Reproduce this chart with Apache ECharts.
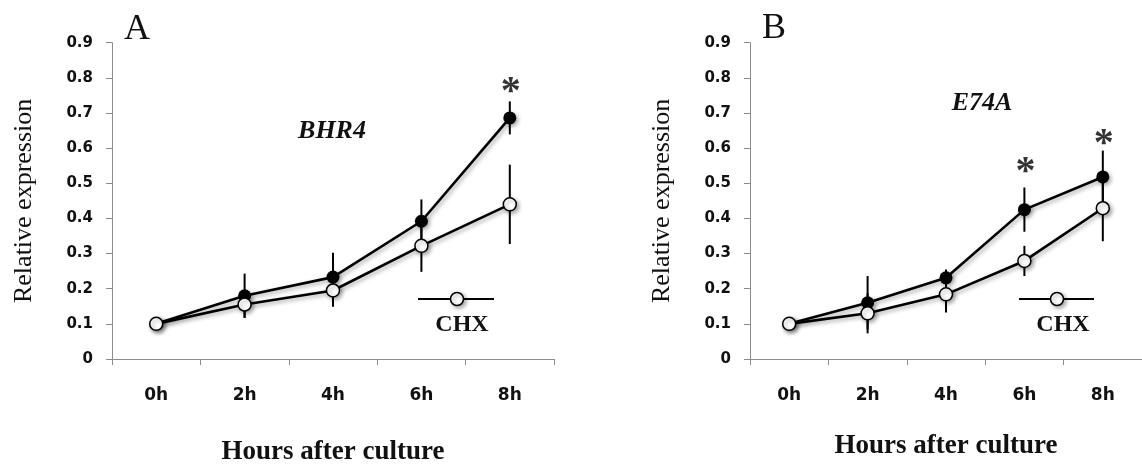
<!DOCTYPE html>
<html>
<head>
<meta charset="utf-8">
<script src="https://cdn.jsdelivr.net/npm/echarts@6/dist/echarts.min.js"></script>
<style>
html,body{margin:0;padding:0;background:#fff;}
#chart{width:1142px;height:465px;}
</style>
</head>
<body>
<div id="chart"></div>
<script>
const categories = ['0h', '2h', '4h', '6h', '8h'];

// Panel A – BHR4
const ctrlA    = [0.100, 0.180, 0.233, 0.392, 0.686];
const ctrlErrA = [0.000, 0.063, 0.069, 0.062, 0.047];
const chxA     = [0.100, 0.155, 0.195, 0.322, 0.440];
const chxErrA  = [0.000, 0.038, 0.046, 0.074, 0.113];
const starsA   = [[4, 0.777]];

// Panel B – E74A
const ctrlB    = [0.100, 0.160, 0.231, 0.425, 0.518];
const ctrlErrB = [0.000, 0.076, 0.024, 0.063, 0.075];
const chxB     = [0.100, 0.130, 0.184, 0.279, 0.429];
const chxErrB  = [0.000, 0.057, 0.052, 0.043, 0.094];
const starsB   = [[3, 0.549], [4, 0.629]];

const SANS = 'DejaVu Sans';
const SERIF = 'Liberation Serif';
const shadow = {shadowColor: 'rgba(0,0,0,0.35)', shadowBlur: 4, shadowOffsetX: 2, shadowOffsetY: 2};

function errData(vals, errs) { return vals.map((v, i) => [i, v, errs[i]]); }

function errSeries(idx, vals, errs) {
  return {
    type: 'custom', xAxisIndex: idx, yAxisIndex: idx, z: 1,
    data: errData(vals, errs),
    encode: {x: 0, y: 1},
    renderItem: function (params, api) {
      const x = api.value(0), v = api.value(1), e = api.value(2);
      if (!e) return null;
      const t = api.coord([x, v + e]);
      const b = api.coord([x, v - e]);
      return {type: 'line', shape: {x1: t[0], y1: t[1], x2: b[0], y2: b[1]},
              style: {stroke: '#000', lineWidth: 2}};
    }
  };
}

function lineSeries(idx, vals, filled) {
  return {
    type: 'line', xAxisIndex: idx, yAxisIndex: idx, z: filled ? 2 : 3,
    data: vals, symbol: 'circle', symbolSize: 13,
    lineStyle: Object.assign({color: '#000', width: 2.6}, shadow),
    itemStyle: Object.assign({color: filled ? '#000' : '#fff', borderColor: '#000', borderWidth: filled ? 0 : 1.5}, shadow),
    emphasis: {disabled: true}, animation: false
  };
}

function starSeries(idx, data) {
  return {
    type: 'scatter', xAxisIndex: idx, yAxisIndex: idx, z: 5,
    data: data, symbolSize: 1, itemStyle: {color: 'rgba(0,0,0,0)'},
    label: {show: true, position: 'inside', formatter: '*', fontFamily: SERIF, fontWeight: 'bold', fontSize: 40, color: '#000', offset: [1, 7]}
  };
}

function xAx(idx, gap) {
  return {
    type: 'category', gridIndex: idx, data: categories, boundaryGap: true,
    axisLine: {lineStyle: {color: '#8c8c8c', width: 1}},
    axisTick: {show: true, length: 6, lineStyle: {color: '#8c8c8c'}},
    axisLabel: {fontFamily: SANS, fontWeight: 'bold', fontSize: 17, color: '#111', margin: 28},
    name: 'Hours after culture', nameLocation: 'middle', nameGap: gap,
    nameTextStyle: {fontFamily: SERIF, fontWeight: 'bold', fontSize: 27, color: '#111'},
    splitLine: {show: false}
  };
}

function yAx(idx) {
  return {
    type: 'value', gridIndex: idx, min: 0, max: 0.9, interval: 0.1,
    axisLine: {show: true, lineStyle: {color: '#8c8c8c', width: 1}},
    axisTick: {show: true, length: 6, lineStyle: {color: '#8c8c8c'}},
    axisLabel: {fontFamily: SANS, fontWeight: 'bold', fontSize: 15, color: '#111', margin: 19,
                formatter: v => (Math.round(v * 10) / 10).toString()},
    splitLine: {show: false},
    name: 'Relative expression', nameLocation: 'middle', nameGap: 75, nameRotate: 90,
    nameTextStyle: {fontFamily: SERIF, fontSize: 26, color: '#111'}
  };
}

function txt(x, y, s, size, style) {
  return {type: 'text', x: x, y: y, style: {text: s, fontFamily: SERIF, fontSize: size,
    fontWeight: style.bold ? 'bold' : 'normal', fontStyle: style.italic ? 'italic' : 'normal',
    fill: '#111', align: 'center', verticalAlign: 'middle'}};
}

const chart = echarts.init(document.getElementById('chart'));
chart.setOption({
  backgroundColor: '#fff',
  animation: false,
  grid: [
    {left: 112, right: 588, top: 42.7, bottom: 106, containLabel: false, outerBoundsMode: 'none'},
    {left: 750, right: 0, top: 42.7, bottom: 106, containLabel: false, outerBoundsMode: 'none'}
  ],
  xAxis: [xAx(0, 80), xAx(1, 74)],
  yAxis: [yAx(0), yAx(1)],
  series: [
    errSeries(0, ctrlA, ctrlErrA), errSeries(0, chxA, chxErrA),
    lineSeries(0, ctrlA, true), lineSeries(0, chxA, false), starSeries(0, starsA),
    errSeries(1, ctrlB, ctrlErrB), errSeries(1, chxB, chxErrB),
    lineSeries(1, ctrlB, true), lineSeries(1, chxB, false), starSeries(1, starsB)
  ],
  graphic: [
    txt(137, 30, 'A', 36, {}),
    txt(774, 29, 'B', 36, {}),
    txt(332, 131, 'BHR4', 26, {bold: true, italic: true}),
    txt(982, 103, 'E74A', 26, {bold: true, italic: true}),
    {type: 'line', shape: {x1: 418, y1: 299, x2: 494, y2: 299}, style: {stroke: '#000', lineWidth: 2}},
    {type: 'circle', shape: {cx: 457, cy: 299, r: 6.5}, style: Object.assign({fill: '#fff', stroke: '#000', lineWidth: 1.5}, shadow)},
    txt(462, 325, 'CHX', 24, {bold: true}),
    {type: 'line', shape: {x1: 1019, y1: 299, x2: 1094, y2: 299}, style: {stroke: '#000', lineWidth: 2}},
    {type: 'circle', shape: {cx: 1057, cy: 299, r: 6.5}, style: Object.assign({fill: '#fff', stroke: '#000', lineWidth: 1.5}, shadow)},
    txt(1063, 325, 'CHX', 24, {bold: true})
  ]
});
</script>
</body>
</html>
